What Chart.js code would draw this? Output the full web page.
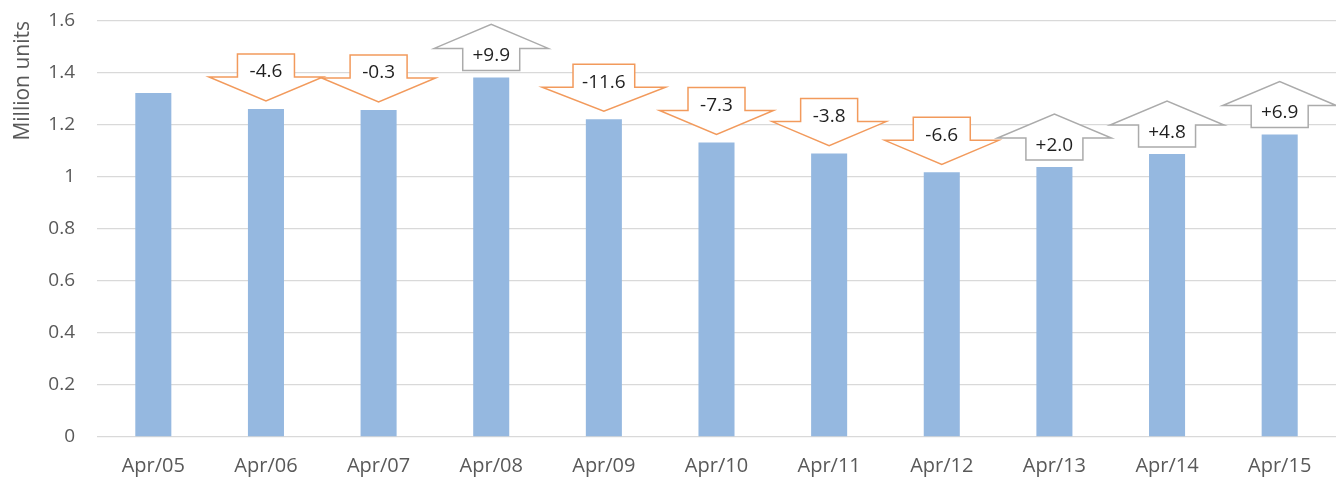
<!DOCTYPE html>
<html>
<head>
<meta charset="utf-8">
<script src="https://cdn.jsdelivr.net/npm/chart.js@4.4.0/dist/chart.umd.min.js"></script>
<style>
  html, body { margin: 0; padding: 0; background: #fff; }
  #wrap { width: 1336px; height: 477px; }
</style>
</head>
<body>
<div id="wrap"><canvas id="myChart" width="1336" height="477"></canvas></div>
<script>
var labels = ['Apr/05', 'Apr/06', 'Apr/07', 'Apr/08', 'Apr/09', 'Apr/10', 'Apr/11', 'Apr/12', 'Apr/13', 'Apr/14', 'Apr/15']
var units = [1.323, 1.262, 1.258, 1.383, 1.222, 1.133, 1.090, 1.018, 1.038, 1.088, 1.163]
var changes = [null, -4.6, -0.3, 9.9, -11.6, -7.3, -3.8, -6.6, 2.0, 4.8, 6.9]

var FONT = '"Open Sans", "Liberation Sans", sans-serif'

// arrows with % change drawn above each bar
var changeArrows = {
  id: 'changeArrows',
  afterDatasetsDraw(chart) {
    var ctx = chart.ctx
    var bars = chart.getDatasetMeta(0).data
    ctx.save()
    ctx.font = '19px ' + FONT
    ctx.textAlign = 'center'
    ctx.textBaseline = 'middle'
    ctx.lineWidth = 1.5
    ctx.lineJoin = 'miter'
    bars.forEach((bar, i) => {
      var c = changes[i]
      if (c === null) return
      var txt = (c > 0 ? '+' : '') + c.toFixed(1)
      var tw = ctx.measureText(txt).width
      var bw = Math.max(57, tw + 18) / 2
      var hw = bw * 2
      var cx = bar.x, top = bar.y
      ctx.beginPath()
      var ty
      if (c < 0) {
        var tip = top - 8, wing = tip - 24, boxTop = wing - 23
        ctx.moveTo(cx - bw, boxTop)
        ctx.lineTo(cx + bw, boxTop)
        ctx.lineTo(cx + bw, wing)
        ctx.lineTo(cx + hw, wing)
        ctx.lineTo(cx, tip)
        ctx.lineTo(cx - hw, wing)
        ctx.lineTo(cx - bw, wing)
        ctx.closePath()
        ctx.strokeStyle = '#F29A5C'
        ty = wing - 5
      } else {
        var boxBot = top - 7, wing = boxBot - 22, tip = wing - 24
        ctx.moveTo(cx - bw, boxBot)
        ctx.lineTo(cx + bw, boxBot)
        ctx.lineTo(cx + bw, wing)
        ctx.lineTo(cx + hw, wing)
        ctx.lineTo(cx, tip)
        ctx.lineTo(cx - hw, wing)
        ctx.lineTo(cx - bw, wing)
        ctx.closePath()
        ctx.strokeStyle = '#ABABAB'
        ty = wing + 7
      }
      ctx.fillStyle = '#fff'
      ctx.fill()
      ctx.stroke()
      ctx.fillStyle = '#1f1f1f'
      ctx.fillText(txt, cx, ty)
    })
    ctx.restore()
  }
}

var ctx = document.getElementById('myChart')
var chart = new Chart(ctx, {
  type: 'bar',
  data: {
    labels: labels,
    datasets: [{
      data: units,
      backgroundColor: '#95B8E0',
      borderWidth: 0,
      barPercentage: 0.32,
      categoryPercentage: 1
    }]
  },
  options: {
    responsive: false,
    animation: false,
    layout: { padding: { top: 21, right: 0, bottom: 0, left: 0 } },
    plugins: {
      legend: { display: false },
      tooltip: { enabled: false }
    },
    scales: {
      x: {
        grid: { display: false, drawTicks: false },
        border: { display: false },
        ticks: { color: '#595959', font: { family: FONT, size: 20 }, padding: 17, maxRotation: 0 },
        afterFit: (s) => { s.height = 40; s.paddingLeft = 0; s.paddingRight = 0 }
      },
      y: {
        min: 0,
        max: 1.6,
        grid: { color: '#D9D9D9', lineWidth: 1.3, drawTicks: false },
        border: { display: false },
        ticks: {
          stepSize: 0.2,
          color: '#595959',
          font: { family: FONT, size: 19 },
          padding: 22,
          callback: (v) => String(+v.toFixed(1))
        },
        title: {
          display: true,
          text: 'Million units',
          align: 'end',
          color: '#595959',
          font: { family: FONT, size: 21 },
          padding: { top: 10, bottom: 0 }
        },
        afterFit: (s) => { s.width = 97; s.paddingTop = 0; s.paddingBottom = 0 }
      }
    }
  },
  plugins: [changeArrows]
})
</script>
</body>
</html>
